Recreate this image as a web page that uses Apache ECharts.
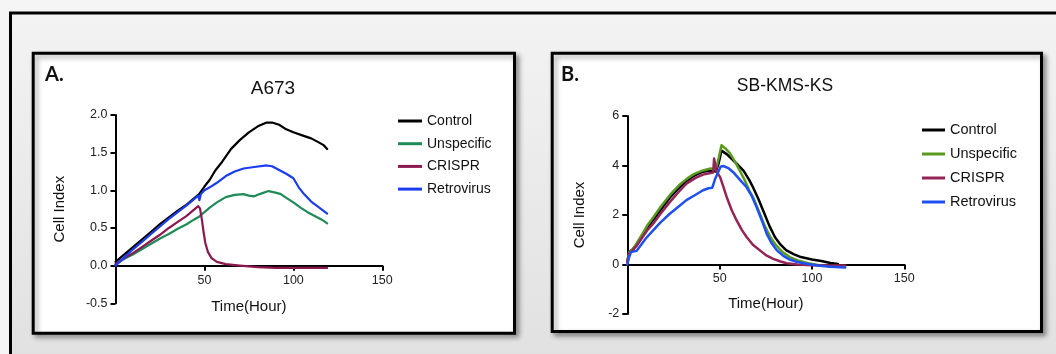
<!DOCTYPE html>
<html>
<head>
<meta charset="utf-8">
<script src="https://cdn.jsdelivr.net/npm/echarts@6/dist/echarts.min.js"></script>
<style>
html,body{margin:0;padding:0;background:#f5f5f5;}
#chart{width:1056px;height:354px;}
</style>
</head>
<body>
<div id="chart"></div>
<script>
// ---- Data (hours, cell index) ----
const seriesNames = ['Control', 'Unspecific', 'CRISPR', 'Retrovirus'];
const xTicks = [0, 50, 100, 150];
const yTicksA = [-0.5, 0, 0.5, 1.0, 1.5, 2.0];
const yTicksB = [-2, 0, 2, 4, 6];

// Panel A: A673
const controlA = [[0,0.05],[5,0.15],[10,0.25],[15,0.35],[20,0.45],[25,0.55],[30,0.64],[35,0.73],[40,0.81],[44,0.89],[47,0.95],[50,1.05],[53,1.14],[56,1.26],[60,1.38],[65,1.55],[70,1.67],[75,1.77],[80,1.85],[85,1.90],[88,1.90],[92,1.87],[96,1.81],[100,1.77],[105,1.73],[110,1.69],[114,1.64],[117,1.60],[119,1.55]];
const unspecificA = [[0,0.02],[5,0.09],[10,0.15],[15,0.22],[20,0.29],[25,0.36],[30,0.42],[35,0.49],[40,0.55],[44,0.61],[47,0.65],[50,0.71],[53,0.77],[57,0.84],[62,0.91],[67,0.94],[72,0.95],[75,0.93],[78,0.92],[81,0.95],[86,0.99],[90,0.97],[93,0.95],[96,0.90],[100,0.84],[104,0.77],[108,0.71],[112,0.66],[116,0.61],[119,0.56]];
const crisprA = [[0,0.02],[5,0.1],[10,0.17],[15,0.25],[20,0.33],[25,0.41],[30,0.5],[35,0.58],[40,0.66],[44,0.74],[46.5,0.79],[47.5,0.76],[48.5,0.62],[49.5,0.45],[50.5,0.3],[52,0.18],[54,0.1],[57,0.05],[62,0.02],[70,0.0],[80,-0.02],[90,-0.03],[100,-0.03],[110,-0.03],[119,-0.03]];
const retrovirusA = [[0,0.0],[5,0.11],[10,0.22],[15,0.32],[20,0.42],[25,0.52],[30,0.62],[35,0.71],[40,0.8],[44,0.88],[46.5,0.93],[47.2,0.87],[48,0.95],[50,1.0],[53,1.04],[57,1.1],[62,1.19],[67,1.25],[72,1.29],[78,1.31],[85,1.33],[88,1.32],[92,1.27],[96,1.22],[100,1.16],[103,1.04],[106,0.95],[110,0.85],[114,0.78],[119,0.69]];

// Panel B: SB-KMS-KS
const controlB = [[0,0.1],[1,0.5],[3,0.62],[5,0.8],[8,1.15],[11,1.5],[14,1.8],[18,2.2],[23,2.7],[28,3.1],[32,3.38],[36,3.58],[41,3.75],[45,3.8],[48,3.76],[49.5,4.1],[51,4.6],[52,4.62],[54,4.45],[57.5,4.2],[60,4.02],[63,3.78],[66,3.42],[68,3.13],[71,2.65],[74,2.1],[77,1.55],[80,1.1],[83,0.8],[86,0.58],[90,0.42],[94,0.3],[100,0.2],[105,0.14],[110,0.06],[114,0.02]];
const unspecificB = [[0,0.1],[1,0.5],[3,0.62],[5,0.85],[8,1.22],[11,1.6],[14,1.9],[18,2.32],[23,2.8],[28,3.2],[32,3.45],[36,3.65],[41,3.8],[45,3.88],[48,3.85],[49.5,4.3],[51,4.82],[53,4.7],[55.5,4.5],[58,4.2],[61,3.78],[63.5,3.42],[66,3.0],[68.5,2.65],[71.5,2.1],[74.5,1.55],[77.5,1.1],[80.5,0.78],[84,0.5],[88,0.3],[93,0.15],[98,0.05],[104,-0.03],[110,-0.07]];
const crisprB = [[0,0.1],[1,0.45],[3,0.58],[5,0.75],[8,1.08],[11,1.4],[14,1.65],[18,2.05],[23,2.52],[28,2.95],[32,3.27],[37,3.5],[41,3.63],[45,3.7],[46.5,3.72],[47,4.28],[47.8,4.2],[48.3,3.75],[50.2,3.54],[52,3.15],[53.8,2.73],[56.5,2.2],[59.2,1.78],[62,1.4],[64.6,1.11],[68,0.8],[71.8,0.57],[75,0.38],[79,0.23],[83,0.12],[86.3,0.05],[92,0.0],[100,-0.03],[110,-0.04],[118,-0.04]];
const retrovirusB = [[0,0],[1,0.3],[2,0.5],[5,0.55],[7,0.75],[10,1.05],[14,1.38],[18,1.7],[23,2.05],[28,2.35],[32,2.6],[37,2.82],[41,3.0],[44,3.08],[46,3.1],[47,3.15],[47.5,3.45],[49,3.7],[50.5,3.95],[52,3.98],[55,3.88],[57.5,3.72],[61,3.42],[64.5,3.13],[67.5,2.75],[70,2.32],[73,1.75],[75.5,1.24],[78,0.88],[81,0.57],[84.5,0.35],[88,0.2],[92,0.1],[97,0.03],[103,-0.04],[110,-0.09],[118,-0.12]];

// ---- Styles ----
const colorsA = ['#000000', '#1f8b57', '#8c1850', '#1c3cf2'];
const colorsB = ['#000000', '#5a9a1e', '#952456', '#1f50f2'];
const FONT = 'Liberation Sans, Arial, sans-serif';
const W = 1056, H = 354;
const gridA = {left: 115.5, right: 673.7, top: 115, bottom: 50.7};
const gridB = {left: 627.3, right: 151.7, top: 116, bottom: 40};

const chart = echarts.init(document.getElementById('chart'), null, {renderer: 'canvas'});

// place the x axis at y = 0 of its value axis
function zeroOffset(grid, ticks) {
  const h = H - grid.top - grid.bottom;
  const lo = ticks[0], hi = ticks[ticks.length - 1];
  return -((0 - lo) / (hi - lo)) * h;
}

function xAxisCfg(gridIndex, offset, nameGap) {
  return {
    type: 'value', gridIndex: gridIndex, min: xTicks[0], max: xTicks[xTicks.length - 1], interval: 50,
    position: 'bottom', offset: offset,
    name: 'Time(Hour)', nameLocation: 'middle', nameGap: nameGap,
    nameTextStyle: {fontFamily: FONT, fontSize: 15, color: '#111'},
    axisLine: {onZero: false, lineStyle: {color: '#000', width: 2}},
    axisTick: {show: true, inside: false, length: 5, lineStyle: {color: '#000', width: 2}},
    axisLabel: {fontFamily: FONT, fontSize: 12.5, color: '#222', margin: 8,
      formatter: v => (v === 0 ? '' : String(v))},
    splitLine: {show: false}
  };
}
function yAxisCfg(gridIndex, ticks, interval, fmt, nameGap) {
  return {
    type: 'value', gridIndex: gridIndex, min: ticks[0], max: ticks[ticks.length - 1], interval: interval,
    name: 'Cell Index', nameLocation: 'middle', nameGap: nameGap, nameRotate: 90,
    nameTextStyle: {fontFamily: FONT, fontSize: 15, color: '#111'},
    axisLine: {show: true, onZero: false, lineStyle: {color: '#000', width: 2}},
    axisTick: {show: true, inside: false, length: 5, lineStyle: {color: '#000', width: 2}},
    axisLabel: {fontFamily: FONT, fontSize: 12.5, color: '#222', margin: 8, formatter: fmt},
    splitLine: {show: false}
  };
}
function mkSeries(name, data, color, idx, width) {
  return {
    name: name, type: 'line', xAxisIndex: idx, yAxisIndex: idx, data: data,
    showSymbol: false, symbol: 'none', smooth: false, animation: false,
    lineStyle: {color: color, width: width, join: 'round', cap: 'round'},
    itemStyle: {color: color}, z: 3
  };
}
function legendData(colors) {
  return seriesNames.map((n, i) => ({name: n, itemStyle: {color: colors[i]}, lineStyle: {color: colors[i]}}));
}

const rawA = [controlA, unspecificA, crisprA, retrovirusA];
const rawB = [controlB, unspecificB, crisprB, retrovirusB];
const series = [];
seriesNames.forEach((n, i) => series.push(mkSeries(n, rawA[i], colorsA[i], 0, 2.2)));
seriesNames.forEach((n, i) => series.push(mkSeries(n, rawB[i], colorsB[i], 1, 2.5)));

const option = {
  animation: false,
  backgroundColor: '#f5f5f5',
  graphic: [
    {type: 'rect', z: -10, shape: {x: 10.5, y: 13, width: 1100, height: 400},
      style: {fill: new echarts.graphic.LinearGradient(0, 0, 0, 1, [{offset: 0, color: '#f3f3f3'}, {offset: 1, color: '#dedede'}]),
        stroke: '#000', lineWidth: 3}},
    {type: 'rect', z: -9, shape: {x: 33.2, y: 53.2, width: 481.3, height: 280},
      style: {fill: '#ffffff', stroke: '#000', lineWidth: 3, shadowBlur: 5, shadowOffsetX: 3, shadowOffsetY: 3, shadowColor: 'rgba(0,0,0,0.35)'}},
    {type: 'rect', z: -9, shape: {x: 552.2, y: 53.2, width: 489.3, height: 278.3},
      style: {fill: '#ffffff', stroke: '#000', lineWidth: 3, shadowBlur: 5, shadowOffsetX: 3, shadowOffsetY: 3, shadowColor: 'rgba(0,0,0,0.35)'}},
    {type: 'text', z: 5, x: 45, y: 75, style: {text: 'A.', font: 'bold 20px Lato, "Open Sans", sans-serif', fill: '#111', textVerticalAlign: 'middle'}},
    {type: 'text', z: 5, x: 561, y: 75, style: {text: 'B.', font: 'bold 20px Lato, "Open Sans", sans-serif', fill: '#111', textVerticalAlign: 'middle'}},
    {type: 'text', z: 5, x: 273, y: 89, style: {text: 'A673', font: '19px ' + FONT, fill: '#111', textAlign: 'center', textVerticalAlign: 'middle'}},
    {type: 'text', z: 5, x: 785, y: 86, style: {text: 'SB-KMS-KS', font: '17.5px ' + FONT, fill: '#111', textAlign: 'center', textVerticalAlign: 'middle'}}
  ],
  grid: [
    Object.assign({containLabel: false}, gridA),
    Object.assign({containLabel: false}, gridB)
  ],
  xAxis: [xAxisCfg(0, zeroOffset(gridA, yTicksA), 34), xAxisCfg(1, zeroOffset(gridB, yTicksB), 32)],
  yAxis: [
    yAxisCfg(0, yTicksA, 0.5, v => v.toFixed(1), 48),
    yAxisCfg(1, yTicksB, 2, v => String(v), 40)
  ],
  legend: [
    {data: legendData(colorsA), orient: 'vertical', left: 398, top: 113, padding: 0, icon: 'rect',
      itemWidth: 24, itemHeight: 3, itemGap: 6.7, selectedMode: false,
      textStyle: {fontFamily: FONT, fontSize: 14, color: '#111', lineHeight: 16}},
    {data: legendData(colorsB), orient: 'vertical', left: 922, top: 122, padding: 0, icon: 'rect',
      itemWidth: 23, itemHeight: 3, itemGap: 8, selectedMode: false,
      textStyle: {fontFamily: FONT, fontSize: 14.5, color: '#111', lineHeight: 16}}
  ],
  series: series
};
chart.setOption(option);
</script>
</body>
</html>
